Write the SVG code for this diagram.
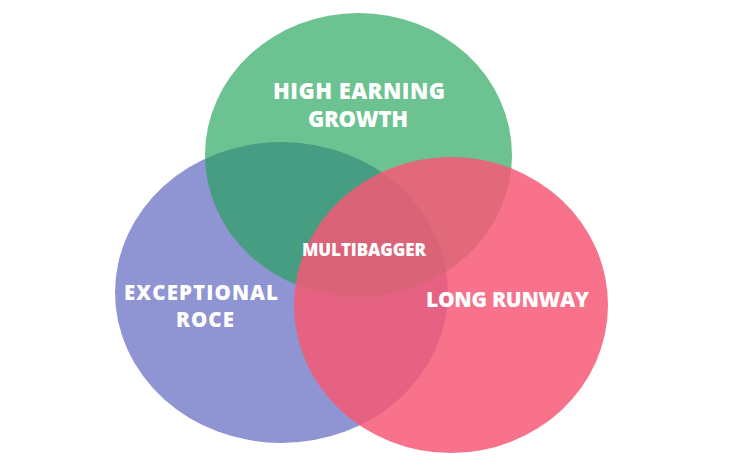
<svg xmlns="http://www.w3.org/2000/svg" width="742" height="467" viewBox="0 0 742 467">
<style>
.lbl{font-family:"Open Sans","Liberation Sans",sans-serif;font-weight:800;fill:#ffffff;text-anchor:middle}
</style>
<rect width="742" height="467" fill="#ffffff"/>
<g id="exceptional-roce">
<ellipse cx="281.5" cy="292.5" rx="166.5" ry="150.5" fill="#8f94d2"/>
</g>
<g id="high-earning-growth">
<ellipse cx="358.5" cy="155" rx="153.5" ry="142" fill="#20a357" fill-opacity="0.66"/>
</g>
<g id="long-runway">
<ellipse cx="451" cy="305" rx="157" ry="148" fill="#f65975" fill-opacity="0.85"/>
</g>
<g id="labels">
<text class="lbl" x="359" y="99" font-size="22" textLength="172">HIGH EARNING</text>
<text class="lbl" x="358" y="127" font-size="22" textLength="100">GROWTH</text>
<text class="lbl" x="201" y="300" font-size="20.5" textLength="154">EXCEPTIONAL</text>
<text class="lbl" x="205" y="327" font-size="20.5" textLength="58">ROCE</text>
<text class="lbl" x="364" y="256" font-size="17" font-weight="700" textLength="124">MULTIBAGGER</text>
<text class="lbl" x="507.5" y="307" font-size="21" textLength="163">LONG RUNWAY</text>
</g>
<g id="connectors"></g>
</svg>
